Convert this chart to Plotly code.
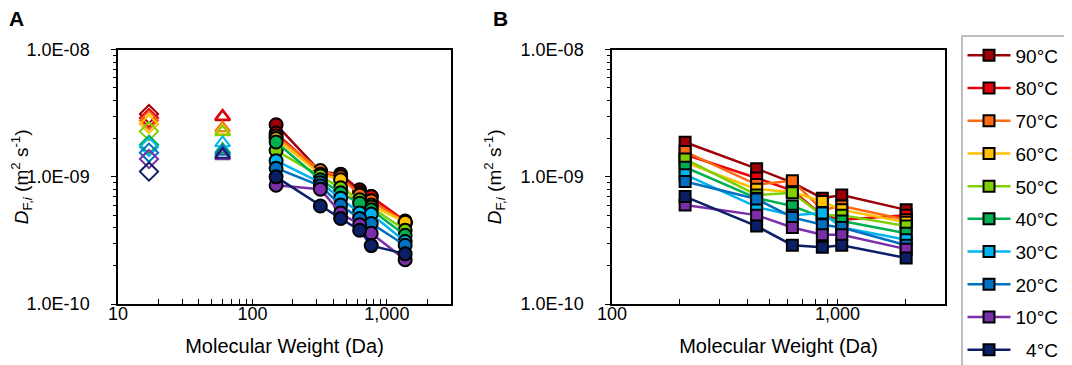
import plotly.graph_objects as go

# ---------------- data ----------------
temps = ["90°C", "80°C", "70°C", "60°C", "50°C", "40°C", "30°C", "20°C", "10°C", "\u20074°C"]
colors = ["#9C0006", "#E8000B", "#FF6A13", "#FFC000", "#7ED000", "#00B050",
          "#00B4F0", "#0070C0", "#7A2FA8", "#0B1F66"]
SCALE = 1e-9  # values below are in units of 1e-9 m^2/s

# Panel A
mw_diamond = 17
mw_triangle = 60
diamond_vals = [3.12, 2.90, 2.78, 2.60, 2.28, 1.79, 1.72, 1.55, 1.38, 1.10]
triangle_vals = [2.95, 3.00, 2.42, 2.30, 2.25, 1.64, 1.85, 1.58, 1.46, 1.50]
mw_a = [150, 320, 453, 627, 765, 1368]
circ_90 = [2.57, 1.10, 1.05, 0.79, 0.70, 0.43]
circ_80 = [2.21, 1.08, 1.00, 0.75, 0.70, 0.45]
circ_70 = [2.10, 1.12, 1.00, 0.72, 0.65, 0.44]
circ_60 = [2.00, 1.05, 0.95, 0.56, 0.60, 0.44]
circ_50 = [1.61, 1.02, 0.82, 0.66, 0.58, 0.38]
circ_40 = [1.88, 0.95, 0.75, 0.62, 0.55, 0.347]
circ_30 = [1.34, 0.90, 0.68, 0.52, 0.51, 0.31]
circ_20 = [1.17, 0.85, 0.60, 0.47, 0.43, 0.29]
circ_10 = [0.86, 0.80, 0.52, 0.42, 0.36, 0.223]
circ_4 = [1.00, 0.59, 0.47, 0.38, 0.288, 0.248]
circles = [circ_90, circ_80, circ_70, circ_60, circ_50, circ_40, circ_30, circ_20, circ_10, circ_4]

# Panel B
mw_b = [211, 438, 631, 857, 1045, 2018]
sq_90 = [1.87, 1.16, 0.90, 0.68, 0.72, 0.55]
sq_80 = [1.50, 0.98, 0.78, 0.50, 0.46, 0.50]
sq_70 = [1.58, 0.87, 0.93, 0.55, 0.59, 0.46]
sq_60 = [1.30, 0.80, 0.76, 0.64, 0.55, 0.44]
sq_50 = [1.38, 0.72, 0.75, 0.50, 0.50, 0.41]
sq_40 = [1.19, 0.68, 0.59, 0.48, 0.45, 0.36]
sq_30 = [1.04, 0.58, 0.50, 0.52, 0.40, 0.32]
sq_20 = [0.92, 0.67, 0.48, 0.42, 0.40, 0.29]
sq_10 = [0.60, 0.50, 0.40, 0.35, 0.35, 0.27]
sq_4 = [0.70, 0.41, 0.29, 0.28, 0.29, 0.23]
squares = [sq_90, sq_80, sq_70, sq_60, sq_50, sq_40, sq_30, sq_20, sq_10, sq_4]

y_tickvals = [1e-10, 1e-9, 1e-8]
y_ticktext = ["1.0E-10", "1.0E-09", "1.0E-08"]
xa_tickvals = [10, 100, 1000]
xb_tickvals = [100, 1000]

FONT = "Liberation Sans, Arial, sans-serif"

fig = go.Figure()

for i, t in enumerate(temps):
    c = colors[i]
    fig.add_trace(go.Scatter(
        x=[mw_diamond], y=[diamond_vals[i] * SCALE], mode="markers",
        marker=dict(symbol="diamond-open", size=14, color=c, line=dict(width=2, color=c)),
        xaxis="x", yaxis="y", showlegend=False))
    fig.add_trace(go.Scatter(
        x=[mw_triangle], y=[triangle_vals[i] * SCALE], mode="markers",
        marker=dict(symbol="triangle-up-open", size=13, color=c, line=dict(width=2, color=c)),
        xaxis="x", yaxis="y", showlegend=False))
    fig.add_trace(go.Scatter(
        x=mw_a, y=[v * SCALE for v in circles[i]], mode="lines+markers",
        line=dict(color=c, width=2.5),
        marker=dict(symbol="circle", size=13, color=c, line=dict(width=2, color="black")),
        xaxis="x", yaxis="y", showlegend=False))

for i, t in enumerate(temps):
    c = colors[i]
    fig.add_trace(go.Scatter(
        x=mw_b, y=[v * SCALE for v in squares[i]], mode="lines+markers", name=t,
        legendgroup=t,
        line=dict(color=c, width=2.5),
        marker=dict(symbol="square", size=11, color=c, line=dict(width=2, color="black")),
        xaxis="x2", yaxis="y2", showlegend=True))

W, H = 1072, 365
def fx(px):
    return px / W
def fy(py):
    return 1 - py / H

minor_y = [m * 10.0 ** e for e in (-10, -9) for m in range(2, 10)]
minor_xa = [m * 10.0 ** e for e in (1, 2, 3) for m in range(2, 10) if m * 10.0 ** e <= 3000]
minor_xb = [m * 10.0 ** e for e in (2, 3) for m in range(2, 10) if m * 10.0 ** e <= 3000]

ytitle = "<i>D</i><sub>F,<i>i</i></sub> (m<sup>2</sup> s<sup>-1</sup>)"

common_x = dict(type="log", showgrid=False, zeroline=False, showline=True, linecolor="black",
                linewidth=1.5, mirror=True, ticks="inside", ticklen=5, tickcolor="black",
                tickfont=dict(size=18, color="black", family=FONT),
                title=dict(text="Molecular Weight (Da)", font=dict(size=20, color="black", family=FONT), standoff=16),
                automargin=False, ticklabelstandoff=-7)
common_y = dict(type="log", range=[-10, -8], showgrid=False, zeroline=False, showline=True,
                linecolor="black", linewidth=1.5, mirror=True, ticks="outside", ticklen=5,
                tickcolor="black", tickvals=y_tickvals, ticktext=y_ticktext,
                tickfont=dict(size=18, color="black", family=FONT),
                title=dict(text=ytitle, font=dict(size=19, color="black", family=FONT), standoff=14),
                automargin=False, ticklabelstandoff=18,
                minor=dict(tickmode="array", tickvals=minor_y, ticks="outside", ticklen=3, tickcolor="black"))

fig.update_layout(
    width=W, height=H,
    margin=dict(l=0, r=0, t=0, b=0),
    paper_bgcolor="white", plot_bgcolor="white",
    font=dict(family=FONT, color="black"),
    xaxis=dict(common_x, domain=[fx(110), fx(443)], range=[1, 3.4771],
               tickvals=xa_tickvals, ticktext=["10", "100", "1,000"], anchor="y",
               minor=dict(tickmode="array", tickvals=minor_xa, ticks="inside", ticklen=5, tickcolor="black")),
    yaxis=dict(common_y, domain=[fy(296), fy(41.7)], anchor="x"),
    xaxis2=dict(common_x, domain=[fx(604), fx(937)], range=[2, 3.4771],
                tickvals=xb_tickvals, ticktext=["100", "1,000"], anchor="y2",
                minor=dict(tickmode="array", tickvals=minor_xb, ticks="inside", ticklen=5, tickcolor="black")),
    yaxis2=dict(common_y, domain=[fy(296), fy(41.7)], anchor="x2"),
    legend=dict(x=fx(953), y=fy(27), xanchor="left", yanchor="top",
                bordercolor="#BFBFBF", borderwidth=1.5, bgcolor="white",
                font=dict(size=19, color="black", family=FONT),
                tracegroupgap=5, itemwidth=43),
    annotations=[
        dict(text="<b>A</b>", x=fx(8), y=fy(10), xref="paper", yref="paper", xanchor="center",
             yanchor="middle", showarrow=False, font=dict(size=21, color="black", family=FONT)),
        dict(text="<b>B</b>", x=fx(492), y=fy(10), xref="paper", yref="paper", xanchor="center",
             yanchor="middle", showarrow=False, font=dict(size=21, color="black", family=FONT)),
    ],
)

fig.write_html("out.html")
